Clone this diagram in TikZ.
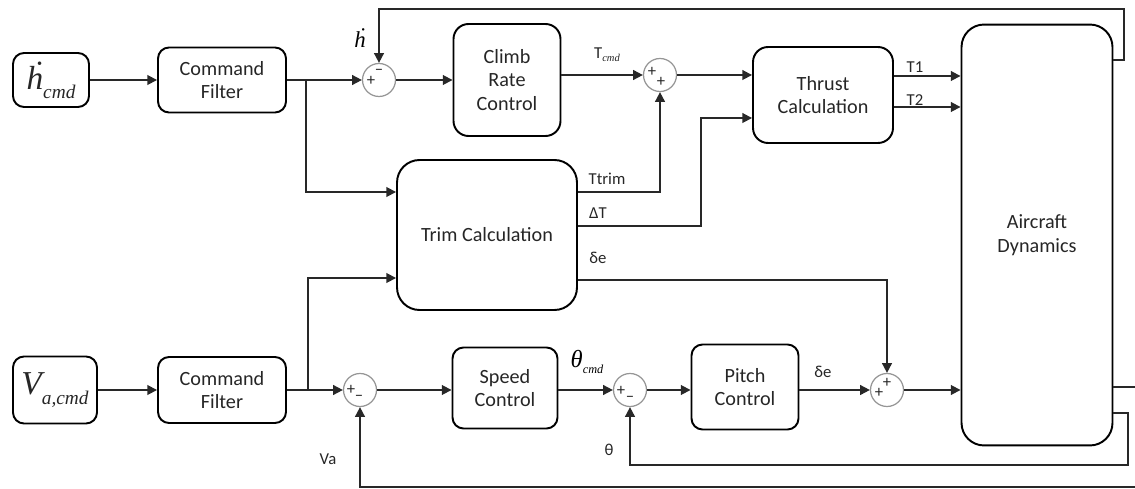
\documentclass[tikz,border=0pt]{standalone}
\usepackage{fontspec}
\setmainfont{Carlito}
\newfontfamily\tnr{Liberation Serif}
\usetikzlibrary{arrows.meta, calc, positioning}
\definecolor{linegray}{RGB}{40, 40, 40}
\definecolor{sumgray}{RGB}{150, 150, 150}

\begin{document}
\begin{tikzpicture}[x=0.02cm, y=-0.02cm,
    blk/.style={draw=black, line width=1.1pt, rounded corners=0.22cm, align=center,
                font=\fontsize{11.5}{13.5}\selectfont, text=black!85},
    sumnode/.style={draw=sumgray, circle, line width=0.7pt, minimum size=0.66cm, inner sep=0pt},
    sgn/.style={font=\fontsize{9.5}{9.5}\selectfont, inner sep=0pt, text=black!85},
    sig/.style={font=\fontsize{9.5}{11}\selectfont, inner sep=1pt, text=black!85},
    arr/.style={-{Triangle[length=5.5pt, width=5.5pt]}, line width=1pt, draw=linegray},
    wire/.style={line width=1pt, draw=linegray}]
    \useasboundingbox (0,0) rectangle (1135,489);

    % Commands and filters
    \node[blk, minimum width=1.52cm, minimum height=1.08cm] (hcmd) at (51,80)
        {\tnr\itshape\fontsize{19}{20}\selectfont \.{h}\raisebox{-0.6ex}{\fontsize{11}{11}\selectfont cmd}};
    \node[blk, minimum width=2.56cm, minimum height=1.3cm] (filt1) at (222,80) {Command\\Filter};
    \node[blk, minimum width=1.68cm, minimum height=1.34cm] (vcmd) at (55,390)
        {\tnr\itshape\fontsize{19}{20}\selectfont V\raisebox{-0.6ex}{\fontsize{11}{11}\selectfont a,cmd}};
    \node[blk, minimum width=2.56cm, minimum height=1.32cm] (filt2) at (222,390) {Command\\Filter};

    % Controllers
    \node[blk, minimum width=2.14cm, minimum height=2.24cm, rounded corners=0.3cm] (climb) at (507,80)
        {Climb\\Rate\\Control};
    \node[blk, minimum width=2.8cm, minimum height=1.92cm, rounded corners=0.3cm] (thrust) at (823,95)
        {Thrust\\Calculation};
    \node[blk, minimum width=3.6cm, minimum height=3cm, rounded corners=0.45cm] (trim) at (487,235)
        {Trim Calculation};
    \node[blk, minimum width=2.1cm, minimum height=1.62cm] (speed) at (505,388) {Speed\\Control};
    \node[blk, minimum width=2.14cm, minimum height=1.7cm] (pitch) at (745,387) {Pitch\\Control};
    \node[blk, minimum width=3.02cm, minimum height=8.42cm, rounded corners=0.45cm] (air) at (1037,235)
        {Aircraft\\Dynamics};

    % Summing junctions
    \node[sumnode] (s1) at (379,80) {};
    \node[sumnode] (s2) at (660,75) {};
    \node[sumnode] (s4) at (360,390) {};
    \node[sumnode] (s5) at (630,390) {};
    \node[sumnode] (s6) at (887,390) {};
    \node[sgn] (s1a) at ($(s1)+(-8,1)$) {+};
    \node[sgn] (s1b) at ($(s1)+(0,-8)$) {–};
    \node[sgn] (s2a) at ($(s2)+(-8,-3)$) {+};
    \node[sgn] (s2b) at ($(s2)+(1,7)$) {+};
    \node[sgn] (s4a) at ($(s4)+(-9,0)$) {+};
    \node[sgn] (s4b) at ($(s4)+(-1,8)$) {–};
    \node[sgn] (s5a) at ($(s5)+(-9,1)$) {+};
    \node[sgn] (s5b) at ($(s5)+(0,9)$) {–};
    \node[sgn] (s6a) at ($(s6)+(-8,3)$) {+};
    \node[sgn] (s6b) at ($(s6)+(0,-7)$) {+};

    % Altitude-rate path
    \draw[arr] (hcmd) -- (filt1);
    \draw[arr] (filt1) -- (s1);
    \coordinate (b1) at (306,80);
    \draw[arr] (b1) |- ($(trim.west)+(0,-43)$);
    \draw[arr] (s1) -- (climb);
    \draw[arr] (climb.east |- s2) -- (s2);
    \draw[arr] (s2) -- (s2 -| thrust.west);
    \draw[arr] ($(trim.east)+(0,-43)$) -| (s2);
    \draw[arr] ($(trim.east)+(0,-9)$) -| ($(thrust.west)+(-51,23)$) -- ($(thrust.west)+(0,23)$);
    \draw[arr] ($(trim.east)+(0,45)$) -| (s6);
    \coordinate (t1) at ($(thrust.east)+(0,-19)$);
    \coordinate (t2) at ($(thrust.east)+(0,12)$);
    \draw[arr] (t1) -- (t1 -| air.west);
    \draw[arr] (t2) -- (t2 -| air.west);

    % Airspeed path
    \draw[arr] (vcmd) -- (filt2);
    \draw[arr] (filt2) -- (s4);
    \coordinate (b2) at (308,390);
    \draw[arr] (b2) |- ($(trim.west)+(0,43)$);
    \draw[arr] (s4) -- (s4 -| speed.west);
    \draw[arr] (s4 -| speed.east) -- (s5);
    \draw[arr] (s5) -- (s5 -| pitch.west);
    \draw[arr] (s5 -| pitch.east) -- (s6);
    \draw[arr] (s6) -- (s6 -| air.west);

    % Feedback
    \coordinate (hout) at ($(air.east)+(0,-175)$);
    \coordinate (hfb) at (1124,9);
    \draw[arr] (hout) -| (hfb) -| (s1);
    \coordinate (vout) at ($(air.east)+(0,152)$);
    \coordinate (vedge) at (1135,387);
    \draw[wire] (vout) -- (vedge);
    \coordinate (thout) at ($(air.east)+(0,178)$);
    \coordinate (thfb) at (1128,465);
    \draw[arr] (thout) -| (thfb) -| (s5);
    \coordinate (vafb) at (1135,487);
    \draw[arr] (vafb) -| (s4);

    % Signal labels
    \node[inner sep=0pt] (lhdot) at (360,38) {\tnr\itshape\fontsize{13}{13}\selectfont \.{h}};
    \node[sig] (ltcmd) at (607,55) {T\raisebox{-0.4ex}{\fontsize{6}{6}\selectfont\tnr\itshape cmd}};
    \node[sig] (lttrim) at (607,179) {Ttrim};
    \node[sig] (ldt) at (598,213) {ΔT};
    \node[sig] (lde1) at (598,258) {δe};
    \node[sig] (lt1) at (915,67) {T1};
    \node[sig] (lt2) at (915,100) {T2};
    \node[inner sep=0pt] (lthcmd) at (587,362)
        {\tnr\itshape\fontsize{14}{14}\selectfont θ\raisebox{-0.5ex}{\fontsize{7}{7}\selectfont cmd}};
    \node[sig] (lde2) at (823,372) {δe};
    \node[sig] (lva) at (328,459) {Va};
    \node[sig] (lth) at (609,450) {θ};
\end{tikzpicture}
\end{document}
